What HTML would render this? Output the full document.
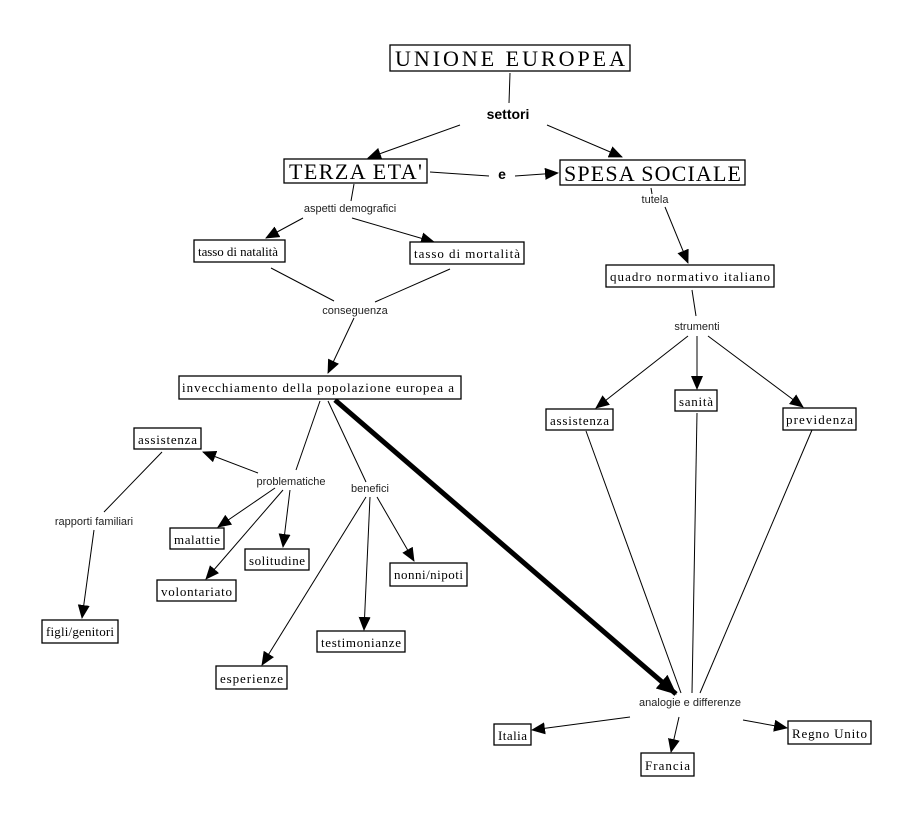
<!DOCTYPE html>
<html><head><meta charset="utf-8"><style>
html,body{margin:0;padding:0;background:#fff;}
svg{display:block;}
.b{fill:#fff;stroke:#000;stroke-width:1.3;}
.t{font-family:"Liberation Serif",serif;fill:#000;}
.s{font-family:"Liberation Sans",sans-serif;fill:#222;font-size:11px;text-anchor:middle;}
line{stroke:#000;stroke-width:1;}
</style></head><body>
<svg width="912" height="815" viewBox="0 0 912 815" xmlns="http://www.w3.org/2000/svg">
<defs>
<marker id="a" markerUnits="userSpaceOnUse" markerWidth="14" markerHeight="12" refX="13" refY="6" orient="auto"><path d="M0,0 L14,6 L0,12 z" fill="#000"/></marker>
<marker id="A" markerUnits="userSpaceOnUse" markerWidth="20" markerHeight="18" refX="19" refY="9" orient="auto"><path d="M0,0 L20,9 L0,18 z" fill="#000"/></marker>
</defs>
<g>
<line x1="510" y1="73" x2="509" y2="103"/>
<line x1="460" y1="125" x2="368" y2="158" marker-end="url(#a)"/>
<line x1="547" y1="125" x2="622" y2="157" marker-end="url(#a)"/>
<line x1="430" y1="172" x2="489" y2="176"/>
<line x1="515" y1="176" x2="558" y2="173" marker-end="url(#a)"/>
<line x1="354" y1="184" x2="351" y2="201"/>
<line x1="303" y1="218" x2="266" y2="238" marker-end="url(#a)"/>
<line x1="352" y1="218" x2="434" y2="242" marker-end="url(#a)"/>
<line x1="271" y1="268" x2="334" y2="301"/>
<line x1="450" y1="269" x2="375" y2="302"/>
<line x1="354" y1="318" x2="328" y2="373" marker-end="url(#a)"/>
<line x1="651" y1="188" x2="652" y2="194"/>
<line x1="665" y1="207" x2="688" y2="263" marker-end="url(#a)"/>
<line x1="692" y1="290" x2="696" y2="316"/>
<line x1="688" y1="336" x2="596" y2="408" marker-end="url(#a)"/>
<line x1="697" y1="336" x2="697" y2="389" marker-end="url(#a)"/>
<line x1="708" y1="336" x2="803" y2="407" marker-end="url(#a)"/>
<line x1="320" y1="401" x2="296" y2="470"/>
<line x1="328" y1="401" x2="366" y2="482"/>
<line x1="335" y1="400" x2="676" y2="694" style="stroke-width:5" marker-end="url(#A)"/>
<line x1="258" y1="473" x2="203" y2="452" marker-end="url(#a)"/>
<line x1="162" y1="452" x2="104" y2="512"/>
<line x1="94" y1="530" x2="82" y2="618" marker-end="url(#a)"/>
<line x1="275" y1="488" x2="218" y2="527" marker-end="url(#a)"/>
<line x1="283" y1="490" x2="206" y2="579" marker-end="url(#a)"/>
<line x1="290" y1="490" x2="283" y2="547" marker-end="url(#a)"/>
<line x1="366" y1="497" x2="262" y2="665" marker-end="url(#a)"/>
<line x1="370" y1="497" x2="364" y2="630" marker-end="url(#a)"/>
<line x1="377" y1="497" x2="414" y2="561" marker-end="url(#a)"/>
<line x1="586" y1="431" x2="681" y2="693"/>
<line x1="697" y1="413" x2="692" y2="693"/>
<line x1="812" y1="430" x2="700" y2="693"/>
<line x1="630" y1="717" x2="532" y2="730" marker-end="url(#a)"/>
<line x1="679" y1="717" x2="671" y2="752" marker-end="url(#a)"/>
<line x1="743" y1="720" x2="787" y2="728" marker-end="url(#a)"/>
</g>
<g>
<rect class="b" x="390" y="45" width="240" height="26"/><text class="t" x="395" y="66" font-size="22" textLength="230">UNIONE    EUROPEA</text>
<rect class="b" x="284" y="159" width="143" height="24"/><text class="t" x="289" y="179" font-size="22" textLength="133">TERZA ETA'</text>
<rect class="b" x="560" y="160" width="185" height="25"/><text class="t" x="564" y="181" font-size="22" textLength="177">SPESA SOCIALE</text>
<rect class="b" x="194" y="240" width="91" height="22"/><text class="t" x="198" y="256" font-size="13" textLength="80">tasso di natalità</text>
<rect class="b" x="410" y="242" width="114" height="22"/><text class="t" x="414" y="258" font-size="13" textLength="106">tasso di mortalità</text>
<rect class="b" x="606" y="265" width="168" height="22"/><text class="t" x="610" y="281" font-size="13" textLength="160">quadro normativo  italiano</text>
<rect class="b" x="179" y="376" width="282" height="23"/><text class="t" x="182" y="392" font-size="13" textLength="272">invecchiamento della popolazione europea   a</text>
<rect class="b" x="546" y="409" width="67" height="21"/><text class="t" x="550" y="425" font-size="13" textLength="59">assistenza</text>
<rect class="b" x="675" y="390" width="42" height="21"/><text class="t" x="679" y="406" font-size="13" textLength="34">sanità</text>
<rect class="b" x="783" y="408" width="73" height="22"/><text class="t" x="786" y="424" font-size="13" textLength="67">previdenza</text>
<rect class="b" x="134" y="428" width="67" height="21"/><text class="t" x="138" y="444" font-size="13" textLength="59">assistenza</text>
<rect class="b" x="170" y="528" width="54" height="21"/><text class="t" x="174" y="544" font-size="13" textLength="46">malattie</text>
<rect class="b" x="245" y="549" width="64" height="21"/><text class="t" x="249" y="565" font-size="13" textLength="56">solitudine</text>
<rect class="b" x="157" y="580" width="79" height="21"/><text class="t" x="161" y="596" font-size="13" textLength="71">volontariato</text>
<rect class="b" x="390" y="563" width="77" height="23"/><text class="t" x="394" y="579" font-size="13" textLength="69">nonni/nipoti</text>
<rect class="b" x="42" y="620" width="76" height="23"/><text class="t" x="46" y="636" font-size="13" textLength="68">figli/genitori</text>
<rect class="b" x="317" y="631" width="88" height="21"/><text class="t" x="321" y="647" font-size="13" textLength="80">testimonianze</text>
<rect class="b" x="216" y="666" width="71" height="23"/><text class="t" x="220" y="683" font-size="13" textLength="63">esperienze</text>
<rect class="b" x="494" y="724" width="37" height="21"/><text class="t" x="498" y="740" font-size="13" textLength="29">Italia</text>
<rect class="b" x="788" y="721" width="83" height="23"/><text class="t" x="792" y="738" font-size="13" textLength="75">Regno Unito</text>
<rect class="b" x="641" y="753" width="53" height="23"/><text class="t" x="645" y="770" font-size="13" textLength="45">Francia</text>
</g>
<g>
<text x="508" y="119" style="font-family:'Liberation Sans',sans-serif;font-weight:bold;font-size:14px;text-anchor:middle;">settori</text>
<text x="502" y="179" style="font-family:'Liberation Sans',sans-serif;font-weight:bold;font-size:14px;text-anchor:middle;">e</text>
<text class="s" x="350" y="212">aspetti demografici</text>
<text class="s" x="655" y="203">tutela</text>
<text class="s" x="355" y="314">conseguenza</text>
<text class="s" x="697" y="330">strumenti</text>
<text class="s" x="291" y="485">problematiche</text>
<text class="s" x="370" y="492">benefici</text>
<text class="s" x="94" y="525">rapporti familiari</text>
<text class="s" x="690" y="706">analogie e differenze</text>
</g>
</svg>
</body></html>
